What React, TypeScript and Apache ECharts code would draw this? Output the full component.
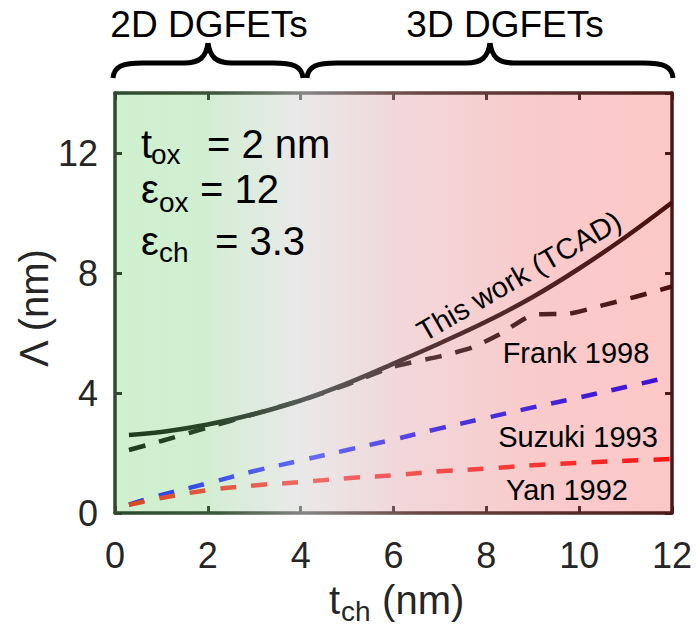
import React, { useEffect, useRef } from 'react';
import * as echarts from 'echarts';

// ---- data ----
const xValues = [0.3, 1, 2, 3, 4, 5, 6, 7, 8, 9, 10, 11, 12];
const tcadValues = [2.6, 2.7, 2.95, 3.3, 3.75, 4.32, 4.98, 5.66, 6.38, 7.2, 8.15, 9.2, 10.35];
const suzukiValues = [0.28, 0.6, 0.99, 1.4, 1.75, 2.1, 2.45, 2.82, 3.17, 3.52, 3.85, 4.2, 4.55];
const yanValues = [0.27, 0.5, 0.76, 0.92, 1.03, 1.16, 1.26, 1.39, 1.48, 1.59, 1.67, 1.74, 1.8];
const frankX = [0.3, 1, 2, 3, 4, 5, 6, 7, 7.7, 8.3, 9, 9.8, 10.5, 11.2, 12];
const frankValues = [2.1, 2.4, 2.85, 3.3, 3.75, 4.28, 4.88, 5.22, 5.52, 5.97, 6.6, 6.65, 6.92, 7.2, 7.55];

const xMin = 0, xMax = 12, xInterval = 2;
const yMin = 0, yMax = 14, yInterval = 4;

const seriesNames = ['This work (TCAD)', 'Frank 1998', 'Suzuki 1993', 'Yan 1992'];
const regionLabels = ['2D DGFETs', '3D DGFETs'];
const paramLines = [
  { base: 't', sub: 'ox', rest: '= 2 nm' },
  { base: 'ε', sub: 'ox', rest: '= 12' },
  { base: 'ε', sub: 'ch', rest: '= 3.3' },
];

// ---- layout / style ----
const W = 697, H = 630;
const GRID = { left: 115, top: 93, width: 557, height: 420 };
const gx0 = GRID.left, gx1 = GRID.left + GRID.width;
const FONT = '"Liberation Sans", Arial, Helvetica, sans-serif';

function hGrad(stops: [number, string][]) {
  return {
    type: 'linear', x: gx0, y: 0, x2: gx1, y2: 0, global: true,
    colorStops: stops.map(([offset, color]) => ({ offset, color })),
  };
}

const blackGrad = () => hGrad([[0, '#1b3b1b'], [0.18, '#2a462a'], [0.36, '#5c5c5c'], [0.55, '#553434'], [1, '#4a0f0f']]);
const blueGrad = () => hGrad([[0, '#1c3ce0'], [0.36, '#6868f2'], [0.6, '#4c34dc'], [1, '#3c0ed2']]);
const redGrad = () => hGrad([[0, '#d4481e'], [0.36, '#f06a6a'], [0.6, '#f04a4a'], [1, '#ff1414']]);
const frameGrad = () => hGrad([[0, '#2d4a2d'], [0.18, '#3a573a'], [0.34, '#858585'], [0.55, '#6a4444'], [1, '#4a1a1a']]);

const pairs = (xs: number[], ys: number[]) => xs.map((x, i) => [x, ys[i]]);

function brace(L: number, R: number, tipY: number, midY: number, endY: number) {
  const M = (L + R) / 2;
  const st = { stroke: '#000', lineWidth: 5, fill: null };
  const b = (x1: number, y1: number, cpx1: number, cpy1: number, cpx2: number, cpy2: number, x2: number, y2: number) =>
    ({ type: 'bezierCurve', silent: true, shape: { x1, y1, cpx1, cpy1, cpx2, cpy2, x2, y2 }, style: st });
  const l = (x1: number, y1: number, x2: number, y2: number) => ({ type: 'line', silent: true, shape: { x1, y1, x2, y2 }, style: st });
  return [
    b(L, endY, L + 1, midY + 3, L + 10, midY, L + 30, midY),
    l(L + 30, midY, M - 24, midY),
    b(M - 24, midY, M - 8, midY, M - 2, midY - 6, M, tipY),
    b(M, tipY, M + 2, midY - 6, M + 8, midY, M + 24, midY),
    l(M + 24, midY, R - 30, midY),
    b(R - 30, midY, R - 10, midY, R - 1, midY + 3, R, endY),
  ];
}

function txt(text: string, x: number, y: number, size: number, align = 'left', extra: any = {}, fill = '#000') {
  return {
    type: 'text', x, y, silent: true, z: 100,
    style: { text, fill, fontSize: size, fontFamily: FONT, align, verticalAlign: 'middle' },
    ...extra,
  };
}

export default function App() {
  const ref = useRef<HTMLDivElement>(null);
  useEffect(() => {
    document.body.style.margin = '0';
    const chart = echarts.init(ref.current!, null, { renderer: 'svg' });

    const axisCommonX = {
      type: 'value', min: xMin, max: xMax, interval: xInterval,
      axisLine: { show: true, onZero: false, lineStyle: { color: frameGrad(), width: 3.5 } },
      axisTick: { show: true, inside: true, length: 7, lineStyle: { color: frameGrad(), width: 3 } },
      splitLine: { show: false },
    };
    const axisCommonY = {
      type: 'value', min: yMin, max: yMax, interval: yInterval,
      axisTick: { show: true, inside: true, length: 7, lineStyle: { width: 3 } },
      splitLine: { show: false },
    };

    const lineDefaults = { type: 'line', showSymbol: false, symbol: 'none', smooth: 0.4, z: 3 };

    const paramEls: any[] = [];
    const baseY = [144, 189, 241];
    const subY = [154, 202, 252];
    const subX = [151, 159, 159];
    const restX = [207, 200, 215];
    paramLines.forEach((p, i) => {
      paramEls.push(txt(p.base, 141, baseY[i], 40));
      paramEls.push(txt(p.sub, subX[i], subY[i], 28));
      paramEls.push(txt(p.rest, restX[i], baseY[i], 40));
    });

    const option: any = {
      animation: false,
      textStyle: { fontFamily: FONT },
      grid: {
        ...GRID, show: true, borderWidth: 0,
        backgroundColor: {
          type: 'linear', x: 0, y: 0, x2: 1, y2: 0,
          colorStops: [
            { offset: 0, color: '#cef1ce' }, { offset: 0.16, color: '#d2eed2' },
            { offset: 0.33, color: '#e9e9e9' }, { offset: 0.5, color: '#f1d8da' },
            { offset: 0.75, color: '#f9cbcb' }, { offset: 1, color: '#fcc7c7' },
          ],
        },
      },
      xAxis: [
        { ...axisCommonX, position: 'bottom',
          axisLabel: { show: true, fontSize: 36, color: '#262626', margin: 24, fontFamily: FONT } },
        { ...axisCommonX, position: 'top', axisLabel: { show: false } },
      ],
      yAxis: [
        { ...axisCommonY, position: 'left',
          axisLine: { show: true, onZero: false, lineStyle: { color: '#2d4a2d', width: 3.5 } },
          axisTick: { ...axisCommonY.axisTick, lineStyle: { color: '#2d4a2d', width: 3 } },
          axisLabel: { show: true, fontSize: 36, color: '#262626', margin: 17, fontFamily: FONT, showMaxLabel: false } },
        { ...axisCommonY, position: 'right',
          axisLine: { show: true, onZero: false, lineStyle: { color: '#4a1a1a', width: 3.5 } },
          axisTick: { ...axisCommonY.axisTick, lineStyle: { color: '#4a1a1a', width: 3 } },
          axisLabel: { show: false } },
      ],
      series: [
        { ...lineDefaults, name: seriesNames[0], data: pairs(xValues, tcadValues),
          lineStyle: { color: blackGrad(), width: 4.5 } },
        { ...lineDefaults, name: seriesNames[1], data: pairs(frankX, frankValues), smooth: 0.2,
          lineStyle: { color: blackGrad(), width: 4.5, type: [17, 14] } },
        { ...lineDefaults, name: seriesNames[2], data: pairs(xValues, suzukiValues),
          lineStyle: { color: blueGrad(), width: 4.5, type: [16, 15] } },
        { ...lineDefaults, name: seriesNames[3], data: pairs(xValues, yanValues),
          lineStyle: { color: redGrad(), width: 4.5, type: [16, 15] } },
      ],
      graphic: [
        ...brace(113, 303, 43, 63, 78),
        ...brace(307, 673, 43, 63, 78),
        txt(regionLabels[0], 209, 24, 37, 'center'),
        txt(regionLabels[1], 505, 24, 37, 'center'),
        ...paramEls,
        txt(seriesNames[0], 519, 276, 29, 'center', { rotation: (30 * Math.PI) / 180 }),
        txt(seriesNames[1], 576, 353, 29, 'center'),
        txt(seriesNames[2], 578, 437, 29, 'center'),
        txt(seriesNames[3], 567, 490, 29, 'center'),
        // axis titles
        txt('Λ (nm)', 34, 308, 40, 'center', { rotation: Math.PI / 2 }, '#262626'),
        txt('t', 329, 600, 40, 'left', {}, '#262626'),
        txt('ch', 341, 611, 28, 'left', {}, '#262626'),
        txt(' (nm)', 371, 600, 40, 'left', {}, '#262626'),
      ],
    };
    chart.setOption(option);
    return () => chart.dispose();
  }, []);
  return <div ref={ref} style={{ width: W, height: H }} />;
}
